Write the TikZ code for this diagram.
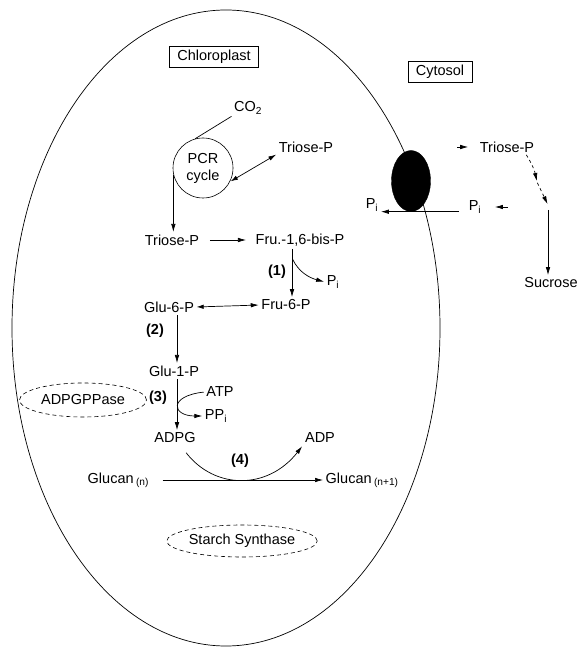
\documentclass[tikz,border=0pt]{standalone}
\usepackage{fontspec}
\setmainfont{Liberation Sans}
\usetikzlibrary{arrows.meta,calc,shapes.geometric}
\begin{document}
\begin{tikzpicture}[x=1pt, y=1pt,
    txt/.style={font=\fontsize{14.5}{17}\selectfont, inner sep=1.5pt},
    tag/.style={txt, draw, line width=0.6pt, inner xsep=8pt, minimum height=21pt},
    enz/.style={txt, draw, ellipse, dash pattern=on 4pt off 3pt, line width=0.6pt, inner sep=0pt},
    num/.style={txt, font=\fontsize{14.5}{17}\selectfont\bfseries},
    arr/.style={-{Latex[length=8pt,width=4.5pt]}, line width=0.7pt, shorten >=1pt, shorten <=1pt},
    arr2/.style={arr, {Latex[length=7pt,width=4.5pt]}-{Latex[length=8pt,width=4.5pt]}},
  ]
  \useasboundingbox (0,0) rectangle (581,648);

  % Chloroplast envelope and transporter
  \draw[line width=0.7pt] (226,320) ellipse [x radius=214pt, y radius=318pt];
  \node[draw, ellipse, fill=black, minimum width=39pt, minimum height=61pt, inner sep=0pt] (tr) at (411,467) {};

  \node[tag] (chl) at (214,591) {Chloroplast};
  \node[tag] (cyt) at (440,576) {Cytosol};

  % Chloroplast metabolites
  \node[txt] (co2) at (248,540) {CO\textsubscript{2}};
  \node[txt, draw, circle, minimum size=60pt, align=center, line width=0.6pt] (pcr) at (203,480) {PCR\\cycle};
  \node[txt] (triA) at (306,501) {Triose-P};
  \node[txt] (triB) at (172,408) {Triose-P};
  \node[txt] (fbp) at (300,408) {Fru.-1,6-bis-P};
  \node[txt] (pi1) at (333,366) {P\textsubscript{i}};
  \node[txt] (f6p) at (286,343) {Fru-6-P};
  \node[txt] (g6p) at (169,341) {Glu-6-P};
  \node[txt] (g1p) at (174,277) {Glu-1-P};
  \node[txt] (atp) at (220,256) {ATP};
  \node[txt] (ppi) at (216,232) {PP\textsubscript{i}};
  \node[txt] (adpg) at (175,210) {ADPG};
  \node[txt] (adp) at (320,210) {ADP};
  \node[txt, anchor=west] (glcn) at (86,168) {Glucan\,\textsubscript{(n)}};
  \node[txt, anchor=west] (glcn1) at (324,168) {Glucan\,\textsubscript{(n+1)}};

  % Enzymes and step numbers
  \node[enz, minimum width=127pt, minimum height=34pt] (agp) at (83,248) {ADPGPPase};
  \node[enz, minimum width=145pt, minimum height=32pt] (ss) at (242,107) {Starch Synthase};
  \node[num] (n1) at (277,376) {(1)};
  \node[num] (n2) at (155,317) {(2)};
  \node[num] (n3) at (158,250) {(3)};
  \node[num] (n4) at (240,187) {(4)};

  % Cytosol metabolites
  \node[txt] (triC) at (507,501) {Triose-P};
  \node[txt] (pil) at (372,443) {P\textsubscript{i}};
  \node[txt] (pir) at (475,441) {P\textsubscript{i}};
  \node[txt] (suc) at (551,365) {Sucrose};
  \coordinate (c1) at (537,466);
  \coordinate (c2) at (548,443);

  % PCR cycle
  \draw[line width=0.7pt, shorten <=1pt] (co2.south west) -- (pcr.105);
  \draw[arr2] (pcr.-27) -- (triA.south west);
  \draw[arr] (pcr.192) -- (pcr.192 |- triB.north);
  \draw[arr, shorten <=9pt, shorten >=8pt] (triB.east) -- (fbp.west);

  % Steps (1) to (4)
  \draw[arr] ([xshift=-8pt]fbp.south) coordinate (s1) -- (s1 |- f6p.north);
  \draw[arr] ($(s1)!0.2!(s1 |- f6p.north)$) to[out=-65, in=165] (pi1.west);
  \draw[arr2] (g6p.east) -- (f6p.west);
  \draw[arr] ([xshift=8pt]g6p.south) coordinate (s2) -- (s2 |- g1p.north);
  \draw[arr] ([xshift=3pt]g1p.south) coordinate (s3) -- (s3 |- adpg.north);
  \draw[arr] (atp.west) .. controls (168,252) and (172,232) .. (ppi.west);
  \draw[arr, shorten <=10pt, shorten >=2pt] ([xshift=5pt]adpg.south) .. controls (215,158) and (268,158) .. (adp.south west);
  \draw[arr, shorten <=12pt] (glcn.east) -- (glcn1.west);

  % Transport and sucrose synthesis
  \draw[arr, shorten <=8pt] (pir.west |- tr.south) -- (pil.east |- tr.south);
  \draw[arr, shorten >=12pt] ([xshift=26pt]pir.east) -- (pir.east);
  \draw[arr, shorten >=10pt] ([xshift=-22pt]triC.west) -- (triC.west);
  \draw[arr, dashed] ([xshift=-10pt]triC.south east) to[bend left=10] (c1);
  \draw[arr, dashed] (c1) -- (c2);
  \draw[arr, shorten <=5pt] (c2) -- (c2 |- suc.north);
\end{tikzpicture}
\end{document}
